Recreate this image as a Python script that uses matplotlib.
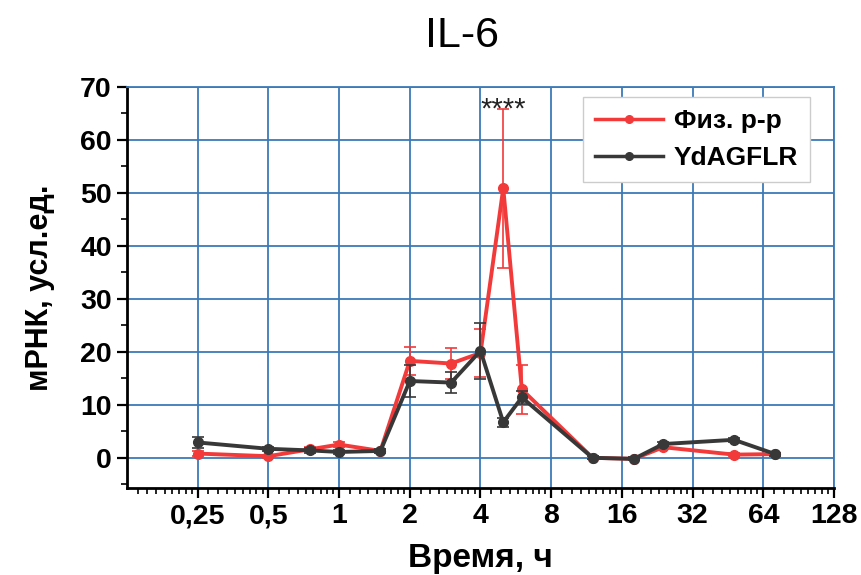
import numpy as np
import matplotlib
matplotlib.use("Agg")
import matplotlib.pyplot as plt
from matplotlib.lines import Line2D
from matplotlib.ticker import FixedLocator, FixedFormatter, MultipleLocator, NullFormatter

plt.rcParams['font.family'] = ['Liberation Sans', 'DejaVu Sans']

# time points, h
hours = [0.25, 0.5, 0.75, 1, 1.5, 2, 3, 4, 5, 6, 12, 18, 24, 48, 72]

# saline (Физ. р-р)
saline = [0.8, 0.3, 1.6, 2.5, 1.3, 18.3, 17.8, 19.8, 50.9, 12.9, 0.0, -0.2, 2.0, 0.6, 0.7]
saline_err = [0.4, 0.3, 0.4, 0.5, 0.4, 2.6, 3.0, 4.5, 15.0, 4.6, 0.3, 0.3, 0.4, 0.3, 0.3]

# YdAGFLR
peptide = [2.9, 1.7, 1.4, 1.1, 1.3, 14.5, 14.2, 20.2, 6.7, 11.4, 0.0, -0.2, 2.6, 3.4, 0.7]
peptide_err = [1.1, 0.4, 0.4, 0.3, 0.4, 3.0, 2.0, 5.3, 0.8, 1.2, 0.3, 0.3, 0.4, 0.4, 0.3]

x_ticks = [0.25, 0.5, 1, 2, 4, 8, 16, 32, 64, 128]
x_ticklabels = ['0,25', '0,5', '1', '2', '4', '8', '16', '32', '64', '128']

RED = '#f23a3a'
DARK = '#383838'
GRID = '#3c7ab6'

fig = plt.figure(figsize=(8.62, 5.75), dpi=100)
ax = fig.add_axes([127 / 862, 1 - 488 / 575, (834 - 127) / 862, (488 - 87) / 575])

ax.set_xscale('log', base=2)
ax.set_xlim(0.125, 128)
ax.set_ylim(-5.7, 70)

ax.errorbar(hours, saline, yerr=saline_err, color=RED, lw=2.8, marker='o', ms=7,
            elinewidth=1.2, capsize=4, capthick=1.2, zorder=3)
ax.errorbar(hours, peptide, yerr=peptide_err, color=DARK, lw=2.8, marker='o', ms=7,
            elinewidth=1.2, capsize=4, capthick=1.2, zorder=4)

ax.text(5, 65.8, '****', ha='center', va='center', fontsize=21, color='#222222')

# ticks
ax.xaxis.set_major_locator(FixedLocator(x_ticks))
ax.xaxis.set_major_formatter(FixedFormatter(x_ticklabels))
minor = []
for k in range(-3, 7):
    base = 2.0 ** k
    minor += [base * (1 + j / 9) for j in range(1, 9)]
ax.xaxis.set_minor_locator(FixedLocator(minor))
ax.xaxis.set_minor_formatter(NullFormatter())
ax.yaxis.set_major_locator(MultipleLocator(10))
ax.yaxis.set_minor_locator(MultipleLocator(5))

ax.tick_params(axis='both', which='major', direction='out', length=7, width=1.6,
               labelsize=20.5, pad=4)
ax.tick_params(axis='both', which='minor', direction='out', length=4, width=1.2)
ax.tick_params(top=False, right=False, which='both')
for lab in ax.get_xticklabels() + ax.get_yticklabels():
    lab.set_fontweight('bold')

ax.grid(True, which='major', color=GRID, lw=1.3)
ax.set_axisbelow(True)
for side in ['left', 'bottom']:
    ax.spines[side].set_linewidth(2)
    ax.spines[side].set_color('black')
for side in ['top', 'right']:
    ax.spines[side].set_linewidth(1.3)
    ax.spines[side].set_color(GRID)

ax.set_xlabel('Время, ч', fontsize=24, fontweight='bold', labelpad=10)
ax.set_ylabel('мРНК, усл.ед.', fontsize=22, fontweight='bold', labelpad=18)

fig.text(462 / 862, 1 - 36 / 575, 'IL-6', ha='center', va='center', fontsize=31)

handles = [
    Line2D([], [], color=RED, lw=2.5, marker='o', ms=5.5),
    Line2D([], [], color=DARK, lw=2.5, marker='o', ms=5.5),
]
leg = ax.legend(handles, ['Физ. р-р', 'YdAGFLR'], loc='upper right',
                bbox_to_anchor=(0.966, 0.975), prop={'weight': 'bold', 'size': 19},
                frameon=True, fancybox=False, framealpha=1, edgecolor='#cccccc',
                handlelength=2.6, borderpad=0.45, labelspacing=0.5, handletextpad=0.4,
                borderaxespad=0)
leg.get_frame().set_linewidth(1.0)

fig.savefig('out.png', dpi=100)
